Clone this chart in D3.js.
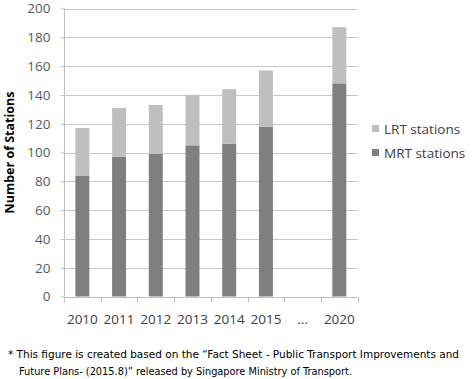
<!DOCTYPE html>
<html><head><meta charset="utf-8">
<script src="https://cdn.jsdelivr.net/npm/d3@7"></script>
<style>body{margin:0;background:#fff;} svg{display:block;}</style>
</head><body>
<script>
const categories = ["2010","2011","2012","2013","2014","2015","...","2020"];
const mrt = [84, 97, 99, 105, 106, 118, null, 148];
const lrt = [33, 34, 34, 35, 38, 39, null, 39];
const yTicks = [0,20,40,60,80,100,120,140,160,180,200];
const seriesNames = ["MRT stations","LRT stations"];
const colors = {"MRT stations":"#7f7f7f","LRT stations":"#bfbfbf"};
const footnote = ["* This figure is created based on the \u201cFact Sheet - Public Transport Improvements and",
                  "Future Plans- (2015.8)\u201d released by Singapore Ministry of Transport."];

const W=473,H=379;
const svg=d3.select("body").append("svg").attr("width",W).attr("height",H);
const pL=64,pR=357.7,pT=8.5,pB=296.5;
const x=d3.scaleBand().domain(categories).range([pL,pR]).paddingInner(0.62).paddingOuter(0.31);
const xb=d3.scaleBand().domain(categories).range([pL,pR]);
const y=d3.scaleLinear().domain([0,200]).range([pB,pT]);

// gridlines
svg.append("g").selectAll("line").data(yTicks.filter(d=>d>0)).join("line")
  .attr("x1",pL).attr("x2",pR).attr("y1",d=>Math.round(y(d))+0.5).attr("y2",d=>Math.round(y(d))+0.5)
  .attr("stroke","#c8c8c8").attr("stroke-width",1);

// y axis
const ya=svg.append("g").attr("transform",`translate(${pL+0.5},0)`)
  .call(d3.axisLeft(y).tickValues(yTicks).tickSize(4).tickPadding(10));
ya.select(".domain").attr("stroke","#bfbfbf").attr("d",`M0,${pT}V${pB}`);
ya.selectAll(".tick line").attr("stroke","#bfbfbf");
ya.selectAll(".tick text").attr("fill","#595959").attr("font-family","'Open Sans', 'Liberation Sans', sans-serif").attr("font-size",13.5);

// stacked data
const data=categories.map((c,i)=>({cat:c,"MRT stations":mrt[i]||0,"LRT stations":lrt[i]||0}));
const stack=d3.stack().keys(seriesNames)(data);
svg.append("g").selectAll("g").data(stack).join("g").attr("fill",d=>colors[d.key])
  .selectAll("rect").data(d=>d).join("rect")
  .attr("x",d=>x(d.data.cat)).attr("width",x.bandwidth())
  .attr("y",d=>y(d[1])).attr("height",d=>y(d[0])-y(d[1]));

// x axis
const xa=svg.append("g").attr("transform",`translate(0,${Math.round(pB)+0.5})`);
xa.append("line").attr("x1",pL).attr("x2",pR).attr("stroke","#bfbfbf");
const bounds=categories.map(c=>xb(c)).concat([pR]);
xa.selectAll("line.tk").data(bounds).join("line").attr("class","tk")
  .attr("x1",d=>Math.round(d)+0.5).attr("x2",d=>Math.round(d)+0.5).attr("y1",0).attr("y2",5).attr("stroke","#bfbfbf");
xa.selectAll("text").data(categories).join("text")
  .attr("x",d=>xb(d)+xb.bandwidth()/2).attr("y",26).attr("text-anchor","middle")
  .attr("fill","#404040").attr("font-family","'Open Sans', 'Liberation Sans', sans-serif").attr("font-size",13.5)
  .text(d=>d);

// y title
svg.append("text").attr("transform",`translate(14,${(pT+pB)/2}) rotate(-90)`)
  .attr("text-anchor","middle").attr("font-family","'Open Sans', sans-serif").attr("font-weight","bold")
  .attr("font-size",12.5).attr("fill","#000").text("Number of Stations");

// legend
const legendItems=["LRT stations","MRT stations"];
const lg=svg.append("g").selectAll("g").data(legendItems).join("g")
  .attr("transform",(d,i)=>`translate(372,${129+i*24})`);
lg.append("rect").attr("x",0).attr("y",-4).attr("width",7).attr("height",7).attr("fill",d=>colors[d]);
lg.append("text").attr("x",12).attr("y",0).attr("dy","0.35em").attr("fill","#404040")
  .attr("font-family","'Open Sans', sans-serif").attr("font-size",13.5).text(d=>d);

// footnote
const fnWidths=[451,333];
svg.append("g").selectAll("text").data(footnote).join("text")
  .attr("x",(d,i)=>i===0?8:19).attr("y",(d,i)=>358+i*17)
  .attr("font-family","'DejaVu Sans', Verdana, sans-serif").attr("font-size",10.5).attr("fill","#000")
  .attr("textLength",(d,i)=>fnWidths[i]).attr("lengthAdjust","spacingAndGlyphs")
  .text(d=>d);
</script>
</body></html>
